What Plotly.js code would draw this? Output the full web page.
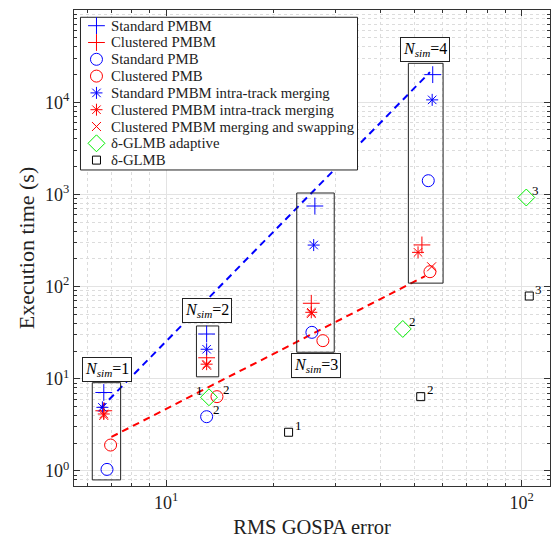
<!DOCTYPE html>
<html>
<head>
<meta charset="utf-8">
<script src="https://cdn.plot.ly/plotly-3.0.1.min.js"></script>
<style>html,body{margin:0;padding:0;background:#fff;}#chart{width:555px;height:544px;}</style>
</head>
<body>
<div id="chart"></div>
<script>
// ---- data ----
const seriesNames = ['Standard PMBM','Clustered PMBM','Standard PMB','Clustered PMB',
  'Standard PMBM intra-track merging','Clustered PMBM intra-track merging',
  'Clustered PMBM merging and swapping','δ-GLMB adaptive','δ-GLMB'];

const xStdPmbm = [6.68, 13.0, 26.2, 56.2];
const yStdPmbm = [7.1, 30.6, 748, 19900];
const xClPmbm = [6.68, 13.0, 25.6, 52.4];
const yClPmbm = [4.5, 16.9, 65.9, 283];
const xStdPmb = [6.82, 13.0, 25.7, 54.6];
const yStdPmb = [1.04, 3.88, 31.9, 1408];
const lblStdPmb = ['', '2', '', ''];
const xClPmb = [6.98, 13.9, 27.6, 55.2];
const yClPmb = [1.91, 6.4, 25.9, 145];
const lblClPmb = ['', '2', '', ''];
const xStdMerge = [6.62, 13.0, 26.0, 56.0];
const yStdMerge = [4.9, 20.9, 282, 10600];
const xClMerge = [6.68, 13.0, 25.6, 51.1];
const yClMerge = [4.15, 14.4, 52.6, 235];
const xClSwap = [6.68, 13.0, 25.6, 55.8];
const yClSwap = [4.0, 14.0, 51, 164];
const xGlmbAd = [13.2, 46.3, 103];
const yGlmbAd = [6.3, 34.7, 925];
const lblGlmbAd = ['1', '2', '3'];
const xGlmb = [22.1, 52.0, 105];
const yGlmb = [2.63, 6.4, 79];
const lblGlmb = ['1', '2', '3'];

const blueFitX = [6.54, 55.2];
const blueFitY = [4.79, 21200];
const redFitX = [7.02, 53.5];
const redFitY = [2.34, 130];

const simLabels = ['1', '2', '3', '4'];
const groupBoxX0 = [6.2, 12.17, 23.3, 48.0];
const groupBoxX1 = [7.45, 14.06, 29.7, 60.1];
const groupBoxY0 = [0.80, 10.5, 19.4, 109];
const groupBoxY1 = [9.07, 37.4, 1035, 26400];
const simLabelX = [6.81, 13.0, 26.4, 53.4];
const simLabelY = [12.5, 54.4, 13.8, 37100];

const yTickVals = [1, 10, 100, 1000, 10000, 100000];
const yTickText = ['10<sup>0</sup>','10<sup>1</sup>','10<sup>2</sup>','10<sup>3</sup>','10<sup>4</sup>','10<sup>5</sup>'];
const xTickVals = [10, 100];
const xTickText = ['10<sup>1</sup>','10<sup>2</sup>'];

// ---- styling ----
const FONT = 'Liberation Serif, Times New Roman, serif';
const BLUE = '#0000ff', RED = '#ff0000', GREEN = '#00ee00', BLACK = '#000000';
const seriesSymbols = ['cross-thin-open','cross-thin-open','circle-open','circle-open',
  'asterisk-open','asterisk-open','x-thin-open','diamond-open','square-open'];
const seriesColors = [BLUE, RED, BLUE, RED, BLUE, RED, RED, GREEN, BLACK];
const seriesSizes = [12, 12, 12, 12, 10, 10, 9, 13, 8];
const seriesX = [xStdPmbm, xClPmbm, xStdPmb, xClPmb, xStdMerge, xClMerge, xClSwap, xGlmbAd, xGlmb];
const seriesY = [yStdPmbm, yClPmbm, yStdPmb, yClPmb, yStdMerge, yClMerge, yClSwap, yGlmbAd, yGlmb];

const traces = [
  {type:'scatter', mode:'lines', x:blueFitX, y:blueFitY, showlegend:false,
    line:{color:BLUE, width:2, dash:'7px,5px'}, hoverinfo:'skip'},
  {type:'scatter', mode:'lines', x:redFitX, y:redFitY, showlegend:false,
    line:{color:RED, width:2, dash:'7px,5px'}, hoverinfo:'skip'}
];

// group boxes (drawn through the data axes)
for (let i = 0; i < simLabels.length; i++) {
  traces.push({type:'scatter', mode:'lines', showlegend:false, hoverinfo:'skip',
    x:[groupBoxX0[i], groupBoxX1[i], groupBoxX1[i], groupBoxX0[i], groupBoxX0[i]],
    y:[groupBoxY0[i], groupBoxY0[i], groupBoxY1[i], groupBoxY1[i], groupBoxY0[i]],
    line:{color:'#222', width:1}});
}

for (let i = 0; i < seriesNames.length; i++) {
  traces.push({type:'scatter', mode:'markers', name:seriesNames[i], showlegend:false,
    x:seriesX[i], y:seriesY[i],
    marker:{symbol:seriesSymbols[i], size:seriesSizes[i], color:seriesColors[i],
      line:{color:seriesColors[i], width:1}}});
}

const annotations = [];
for (let i = 0; i < simLabels.length; i++) {
  annotations.push({xref:'x', yref:'y', x:Math.log10(simLabelX[i]), y:Math.log10(simLabelY[i]),
    text:'<i>N</i><sub><i>sim</i></sub>=' + simLabels[i], showarrow:false,
    font:{family:FONT, size:16, color:'#000'}, bordercolor:'#222', borderwidth:1,
    borderpad:2, bgcolor:'#fff'});
}

function pointLabels(xs, ys, ls, leftIdx) {
  for (let i = 0; i < xs.length; i++) {
    if (!ls[i]) continue;
    const left = leftIdx.indexOf(i) >= 0;
    annotations.push({xref:'x', yref:'y', x:Math.log10(xs[i]), y:Math.log10(ys[i]),
      text:ls[i], showarrow:false, xanchor:left ? 'right' : 'left', yanchor:'middle',
      xshift:left ? -4 : 4, yshift:7, font:{family:FONT, size:13, color:'#000'}});
  }
}
pointLabels(xStdPmb, yStdPmb, lblStdPmb, []);
pointLabels(xClPmb, yClPmb, lblClPmb, []);
pointLabels(xGlmbAd, yGlmbAd, lblGlmbAd, [0]);
pointLabels(xGlmb, yGlmb, lblGlmb, []);

// ---- custom legend (paper units of the plot area) ----
const LEG_X0 = 0.0136, LEG_X1 = 0.5956, LEG_Y0 = 0.6639, LEG_Y1 = 0.9847;
const LEG_SYM_X = 0.0472, LEG_TXT_X = 0.0745;
const legRowY = seriesNames.map((_, i) => 1 - (15.7 + 16.8 * i) / 476);

traces.push({type:'scatter', mode:'lines', xaxis:'x2', yaxis:'y2', showlegend:false, hoverinfo:'skip',
  x:[LEG_X0, LEG_X1, LEG_X1, LEG_X0, LEG_X0], y:[LEG_Y0, LEG_Y0, LEG_Y1, LEG_Y1, LEG_Y0],
  fill:'toself', fillcolor:'#fff', line:{color:'#222', width:1}});
for (let i = 0; i < seriesNames.length; i++) {
  traces.push({type:'scatter', mode:'markers', xaxis:'x2', yaxis:'y2', showlegend:false, hoverinfo:'skip',
    x:[LEG_SYM_X], y:[legRowY[i]],
    marker:{symbol:seriesSymbols[i], size:seriesSizes[i], color:seriesColors[i],
      line:{color:seriesColors[i], width:1}}});
  annotations.push({xref:'paper', yref:'paper', x:LEG_TXT_X, y:legRowY[i], xanchor:'left', yanchor:'middle',
    text:seriesNames[i], showarrow:false, font:{family:FONT, size:14.8, color:'#222'}});
}

const axisCommon = {
  type:'log', showline:true, linecolor:'#333', linewidth:1, mirror:'ticks',
  ticks:'inside', ticklen:6, tickcolor:'#333', tickmode:'array',
  showgrid:true, gridcolor:'#e3e3e3', gridwidth:1, zeroline:false,
  tickfont:{family:FONT, size:18, color:'#222'},
  minor:{dtick:'D1', ticks:'inside', ticklen:3, tickcolor:'#333', showgrid:true,
    gridcolor:'#dcdcdc', griddash:'dot', gridwidth:1}
};

const layout = {
  width:555, height:544,
  margin:{l:73.5, r:5, t:10, b:58},
  paper_bgcolor:'#fff', plot_bgcolor:'#fff',
  font:{family:FONT, color:'#222'},
  showlegend:false,
  xaxis:Object.assign({}, axisCommon, {range:[0.741, 2.0795], tickvals:xTickVals, ticktext:xTickText,
    title:{text:'RMS GOSPA error', font:{family:FONT, size:20.5, color:'#222'}, standoff:8}}),
  yaxis:Object.assign({}, axisCommon, {range:[-0.163, 5.0], tickvals:yTickVals, ticktext:yTickText,
    title:{text:'Execution time (s)', font:{family:FONT, size:22, color:'#222'}, standoff:4}}),
  xaxis2:{overlaying:'x', range:[0, 1], visible:false, fixedrange:true},
  yaxis2:{overlaying:'y', range:[0, 1], visible:false, fixedrange:true},
  annotations:annotations
};

Plotly.newPlot('chart', traces, layout, {staticPlot:true, displayModeBar:false});
</script>
</body>
</html>
